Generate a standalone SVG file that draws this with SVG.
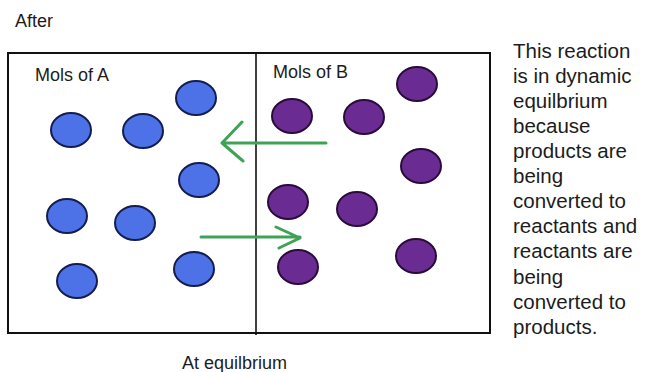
<svg xmlns="http://www.w3.org/2000/svg" width="651" height="372" viewBox="0 0 651 372">
<style>
  text { font-family: "Liberation Sans", Arial, sans-serif; fill: #1c1c1c; }
  .lbl { font-size: 18px; }
  .side { font-size: 20.5px; }
  .a { fill: #4d72e8; stroke: #141d4e; stroke-width: 2; }
  .b { fill: #6a2c93; stroke: #2a0c3a; stroke-width: 2; }
  .arr { stroke: #3ea356; stroke-width: 3; fill: none; stroke-linecap: round; stroke-linejoin: round; }
</style>
<rect width="651" height="372" fill="#ffffff"/>
<text class="lbl" x="15" y="27">After</text>
<g id="box">
  <rect x="8" y="53" width="482" height="280" fill="none" stroke="#111" stroke-width="2"/>
  <line x1="256" y1="53" x2="256" y2="335" stroke="#111" stroke-width="1.6"/>
</g>
<g id="molsA">
  <text class="lbl" x="35" y="81">Mols of A</text>
  <ellipse class="a" cx="196" cy="98" rx="20" ry="17"/>
  <ellipse class="a" cx="71" cy="130" rx="20" ry="17"/>
  <ellipse class="a" cx="143" cy="131" rx="20" ry="17"/>
  <ellipse class="a" cx="199" cy="180" rx="20" ry="17"/>
  <ellipse class="a" cx="67" cy="216" rx="20" ry="17"/>
  <ellipse class="a" cx="135" cy="223" rx="20" ry="17"/>
  <ellipse class="a" cx="77" cy="281" rx="20" ry="17"/>
  <ellipse class="a" cx="194" cy="269" rx="20" ry="17"/>
</g>
<g id="molsB">
  <text class="lbl" x="273" y="78">Mols of B</text>
  <ellipse class="b" cx="417" cy="84" rx="20" ry="17"/>
  <ellipse class="b" cx="292" cy="116" rx="20" ry="17"/>
  <ellipse class="b" cx="364" cy="117" rx="20" ry="17"/>
  <ellipse class="b" cx="421" cy="166" rx="20" ry="17"/>
  <ellipse class="b" cx="288" cy="202" rx="20" ry="17"/>
  <ellipse class="b" cx="357" cy="209" rx="20" ry="17"/>
  <ellipse class="b" cx="298" cy="267" rx="20" ry="17"/>
  <ellipse class="b" cx="416" cy="256" rx="20" ry="17"/>
</g>
<g id="connectors">
  <path class="arr" d="M326 143 H222 M242 122 L222 143 L243 161"/>
  <path class="arr" d="M201 237 H300 M276 227 L300 238 L279 248"/>
</g>
<text class="lbl" x="182" y="369">At equilbrium</text>
<g id="explanation">
  <text class="side" x="513" y="58">This reaction</text>
  <text class="side" x="513" y="83">is in dynamic</text>
  <text class="side" x="513" y="108">equilbrium</text>
  <text class="side" x="513" y="133">because</text>
  <text class="side" x="513" y="158">products are</text>
  <text class="side" x="513" y="183">being</text>
  <text class="side" x="513" y="208">converted to</text>
  <text class="side" x="513" y="233">reactants and</text>
  <text class="side" x="513" y="258">reactants are</text>
  <text class="side" x="513" y="284">being</text>
  <text class="side" x="513" y="309">converted to</text>
  <text class="side" x="513" y="334">products.</text>
</g>
</svg>
